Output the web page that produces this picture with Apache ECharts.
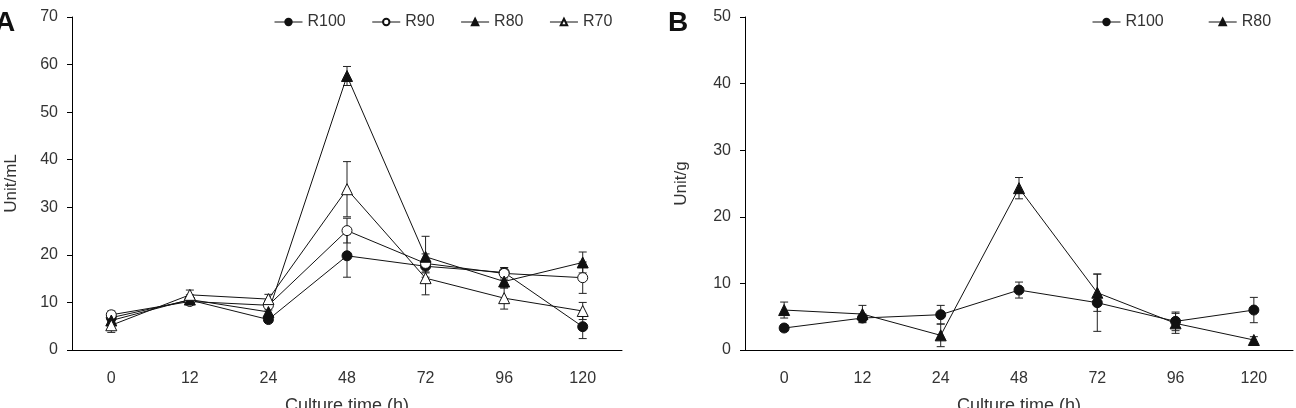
<!DOCTYPE html>
<html>
<head>
<meta charset="UTF-8">
<title>Unit/mL and Unit/g vs culture time</title>
<script src="https://cdn.jsdelivr.net/npm/echarts@6/dist/echarts.min.js"></script>
<style>
  html, body { margin: 0; padding: 0; background: #fff; }
  #main { width: 1296px; height: 408px; }
</style>
</head>
<body>
<div id="main"></div>
<script>
// culture time categories (h)
var hours = ['0', '12', '24', '48', '72', '96', '120'];

// panel A, Unit/mL
var aR100 = [6.8, 10.5, 6.4, 19.8, 17.6, 16.3, 4.9];
var aR100Err = [0.8, 0.8, 0.6, 4.5, 1.2, 1.0, 2.5];
var aR90 = [7.4, 10.2, 9.4, 25.1, 18.2, 16.1, 15.2];
var aR90Err = [0.8, 0.7, 1.0, 2.6, 2.0, 1.2, 3.3];
var aR80 = [6.2, 10.6, 8.0, 57.6, 19.6, 14.4, 18.4];
var aR80Err = [1.0, 1.0, 1.0, 2.0, 4.3, 1.4, 2.2];
var aR70 = [5.2, 11.6, 10.7, 33.8, 15.1, 10.9, 8.2];
var aR70Err = [1.5, 1.0, 1.0, 5.8, 3.5, 2.3, 1.8];

// panel B, Unit/g
var bR100 = [3.3, 4.8, 5.3, 9.0, 7.1, 4.3, 6.0];
var bR100Err = [0.5, 0.6, 1.4, 1.2, 4.3, 1.4, 1.9];
var bR80 = [6.0, 5.4, 2.2, 24.3, 8.6, 4.0, 1.5];
var bR80Err = [1.2, 1.3, 1.7, 1.6, 2.8, 1.5, 0.5];

var font = 'Liberation Sans, Arial, sans-serif';
var textColor = '#333';

function errData(vals, errs) {
    return vals.map(function (v, i) { return [i, v, errs[i]]; });
}

function errRender(params, api) {
    var x = api.value(0), v = api.value(1), e = api.value(2);
    var top = api.coord([x, v + e]);
    var bot = api.coord([x, v - e]);
    var cap = 4;
    var st = { stroke: '#222', lineWidth: 1 };
    return {
        type: 'group',
        children: [
            { type: 'line', shape: { x1: top[0], y1: top[1], x2: bot[0], y2: bot[1] }, style: st },
            { type: 'line', shape: { x1: top[0] - cap, y1: top[1], x2: top[0] + cap, y2: top[1] }, style: st },
            { type: 'line', shape: { x1: bot[0] - cap, y1: bot[1], x2: bot[0] + cap, y2: bot[1] }, style: st }
        ]
    };
}

function lineSeries(name, data, idx, symbol, filled, size) {
    return {
        name: name,
        type: 'line',
        xAxisIndex: idx,
        yAxisIndex: idx,
        data: data,
        symbol: symbol,
        symbolSize: size,
        showAllSymbol: true,
        z: 3,
        lineStyle: { color: '#111', width: 1 },
        itemStyle: { color: filled ? '#111' : '#fff', borderColor: '#111', borderWidth: 1 },
        emphasis: { disabled: true },
        animation: false
    };
}

function errSeries(vals, errs, idx) {
    return {
        type: 'custom',
        xAxisIndex: idx,
        yAxisIndex: idx,
        data: errData(vals, errs),
        renderItem: errRender,
        z: 2,
        silent: true,
        animation: false
    };
}

function xAxis(grid) {
    return {
        type: 'category',
        gridIndex: grid,
        data: hours,
        boundaryGap: true,
        name: 'Culture time (h)',
        nameLocation: 'middle',
        nameGap: 47,
        nameTextStyle: { fontFamily: font, fontSize: 18, color: textColor },
        axisLine: { lineStyle: { color: '#000', width: 1 } },
        axisTick: { length: 5, lineStyle: { color: '#000' } },
        axisLabel: { fontFamily: font, fontSize: 16, color: textColor, margin: 21 },
        splitLine: { show: false }
    };
}

function yAxis(grid, max, name, gap) {
    return {
        type: 'value',
        gridIndex: grid,
        min: 0,
        max: max,
        interval: 10,
        name: name,
        nameLocation: 'middle',
        nameGap: gap,
        nameRotate: 90,
        nameTextStyle: { fontFamily: font, fontSize: 17, color: textColor },
        axisLine: { show: true, lineStyle: { color: '#000', width: 1 } },
        axisTick: { show: true, length: 5, lineStyle: { color: '#000' } },
        axisLabel: { fontFamily: font, fontSize: 16, color: textColor, margin: 14 },
        splitLine: { show: false }
    };
}

function legend(left, gap, names) {
    return {
        left: left,
        top: 9,
        itemWidth: 28,
        itemHeight: 8,
        itemGap: gap,
        lineStyle: { width: 1 },
        textStyle: { fontFamily: font, fontSize: 16, color: textColor },
        selectedMode: false,
        data: names
    };
}

var myChart = echarts.init(document.getElementById('main'), null, { renderer: 'canvas' });

var option = {
    backgroundColor: '#fff',
    animation: false,
    title: [
        { text: 'A', left: -10, top: 4, textStyle: { fontFamily: font, fontSize: 28, fontWeight: 'bold', color: '#111' } },
        { text: 'B', left: 663, top: 4, textStyle: { fontFamily: font, fontSize: 28, fontWeight: 'bold', color: '#111' } }
    ],
    legend: [
        legend(269, 26, ['R100', 'R90', 'R80', 'R70']),
        legend(1087, 40, ['R100 ', 'R80 '])
    ],
    grid: [
        { left: 72, top: 17, width: 550, height: 333, outerBoundsMode: 'none' },
        { left: 745, top: 17, width: 548, height: 333, outerBoundsMode: 'none' }
    ],
    xAxis: [xAxis(0), xAxis(1)],
    yAxis: [yAxis(0, 70, 'Unit/mL', 52), yAxis(1, 50, 'Unit/g', 55)],
    series: [
        errSeries(aR100, aR100Err, 0),
        errSeries(aR90, aR90Err, 0),
        errSeries(aR80, aR80Err, 0),
        errSeries(aR70, aR70Err, 0),
        lineSeries('R100', aR100, 0, 'circle', true, 10),
        lineSeries('R90', aR90, 0, 'circle', false, 10),
        lineSeries('R80', aR80, 0, 'triangle', true, 11),
        lineSeries('R70', aR70, 0, 'triangle', false, 11),
        errSeries(bR100, bR100Err, 1),
        errSeries(bR80, bR80Err, 1),
        lineSeries('R100 ', bR100, 1, 'circle', true, 10),
        lineSeries('R80 ', bR80, 1, 'triangle', true, 11)
    ]
};

myChart.setOption(option);
</script>
</body>
</html>
